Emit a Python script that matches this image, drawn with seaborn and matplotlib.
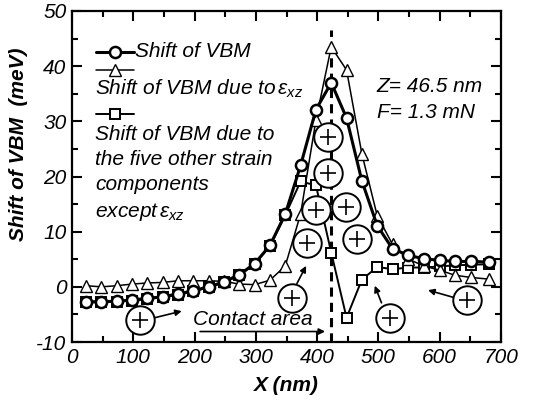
import matplotlib
matplotlib.use("Agg")
import matplotlib.pyplot as plt
import seaborn as sns
import pandas as pd

# Tip position along the scan (nm)
x_nm = [23, 48, 73, 98, 123, 148, 173, 198, 223, 248, 273, 298, 323, 348,
        373, 398, 423, 448, 473, 498, 523, 549, 574, 600, 625, 651, 680]

# Total shift of the valence band maximum (meV)
shift_total = [-2.7, -2.7, -2.6, -2.4, -2.1, -1.8, -1.3, -0.7, 0.0, 0.9, 2.2,
               4.2, 7.5, 13.2, 22.0, 32.1, 37.0, 30.6, 19.2, 11.1, 6.9, 5.7,
               5.1, 4.8, 4.6, 4.6, 4.5]

# Contribution of the shear strain exz
shift_exz = [0.2, 0.0, 0.2, 0.5, 0.7, 0.8, 1.1, 1.1, 1.1, 1.0, 0.5, 0.4, 1.2,
             3.8, 13.2, 30.2, 43.5, 39.3, 24.1, 12.9, 7.7, 5.0, 3.8, 3.0, 2.1,
             1.7, 1.4]

# Contribution of the remaining five strain components
shift_other = [-2.8, -2.8, -2.7, -2.5, -2.2, -1.9, -1.4, -0.8, -0.1, 0.8, 2.1,
               4.1, 7.4, 13.0, 19.1, 18.4, 6.2, -5.6, 1.3, 3.6, 3.2, 3.5, 3.5,
               3.7, 3.9, 4.0, 4.1]

# Sign markers (+) placed along the curves
plus_x = [111, 418, 418, 398, 447, 383, 465, 359, 519, 645]
plus_y = [-6.0, 27.1, 20.7, 14.0, 14.4, 8.0, 8.7, -2.0, -5.6, -2.4]

# Arrows from sign markers to the curves: (tail x, tail y, head x, head y)
arrow_tail_x = [135, 367, 505, 622]
arrow_tail_y = [-5.6, 0.6, -2.9, -1.9]
arrow_head_x = [179, 382, 494, 581]
arrow_head_y = [-4.4, 3.8, 0.2, -0.6]

contact_edge = 422

sns.set_theme(style="ticks")
plt.rcParams["font.family"] = ["Liberation Sans", "DejaVu Sans"]
plt.rcParams["font.style"] = "italic"
plt.rcParams["axes.unicode_minus"] = False
plt.rcParams["mathtext.fontset"] = "custom"
plt.rcParams["mathtext.it"] = "Liberation Sans:italic"
plt.rcParams["mathtext.rm"] = "Liberation Sans:italic"
for key in ["text.color", "axes.labelcolor", "xtick.color", "ytick.color",
            "axes.edgecolor"]:
    plt.rcParams[key] = "black"

df = pd.DataFrame({"x": x_nm, "total": shift_total, "exz": shift_exz,
                   "other": shift_other})

fig = plt.figure(figsize=(5.36, 4.03), dpi=100)
ax = fig.add_axes([72 / 536, 61 / 403, 429 / 536, 331 / 403])

sns.lineplot(data=df, x="x", y="other", ax=ax, color="black", lw=1.4,
             marker="s", markersize=6.5, markerfacecolor="white",
             markeredgecolor="black", markeredgewidth=1.4, zorder=3)
sns.lineplot(data=df, x="x", y="exz", ax=ax, color="black", lw=1.1,
             marker="^", markersize=8, markerfacecolor="white",
             markeredgecolor="black", markeredgewidth=1.0, zorder=4)
sns.lineplot(data=df, x="x", y="total", ax=ax, color="black", lw=2.2,
             marker="o", markersize=8, markerfacecolor="white",
             markeredgecolor="black", markeredgewidth=1.8, zorder=5)

# Edge of the contact area
ax.plot([contact_edge, contact_edge], [-10, 46.5], color="black", lw=2.2,
        ls=(0, (3, 2)), zorder=2)

# Sign markers
sns.scatterplot(x=plus_x, y=plus_y, ax=ax, s=420, marker="o", color="white",
                edgecolor="black", linewidth=1.4, zorder=8)
sns.scatterplot(x=plus_x, y=plus_y, ax=ax, s=140, marker="+", color="black",
                linewidth=1.2, zorder=9)

for tx, ty, hx, hy in zip(arrow_tail_x, arrow_tail_y, arrow_head_x, arrow_head_y):
    ax.annotate("", xy=(hx, hy), xytext=(tx, ty),
                arrowprops=dict(arrowstyle="-|>", color="black", lw=1.2,
                                mutation_scale=9, shrinkA=0, shrinkB=0),
                zorder=7)

# Contact area arrow
ax.annotate("", xy=(413, -8.1), xytext=(209, -8.1),
            arrowprops=dict(arrowstyle="-|>", color="black", lw=1.2,
                            mutation_scale=9, shrinkA=0, shrinkB=0))
ax.text(198, -6.0, "Contact area", fontsize=15, ha="left", va="center")

ax.text(497, 36.4, "Z= 46.5 nm", fontsize=15, ha="left", va="center")
ax.text(497, 31.6, "F= 1.3 mN", fontsize=15, ha="left", va="center")

# Legend
def ax_pt(px, py):
    return (px - 72) / 429, (342 - py) / 331

legend_rows = [(51.7, "o", 8, 1.8, 2.2), (69.5, "^", 8, 1.0, 1.1),
               (113.5, "s", 6.5, 1.4, 1.4)]
for py, mk, ms, mew, lw in legend_rows:
    x0, y0 = ax_pt(95.5, py)
    x1, _ = ax_pt(133.5, py)
    ax.plot([x0, x1], [y0, y0], color="black", lw=lw, transform=ax.transAxes,
            clip_on=False, zorder=6)
    ax.plot([(x0 + x1) / 2], [y0], marker=mk, markersize=ms,
            markerfacecolor="white", markeredgecolor="black",
            markeredgewidth=mew, transform=ax.transAxes, clip_on=False,
            zorder=7)

legend_text = [(135, 51.7, "Shift of VBM"),
               (95, 89, r"Shift of VBM due to$\,\varepsilon_{xz}$"),
               (95, 134, "Shift of VBM due to"),
               (95, 159, "the five other strain"),
               (95, 185, "components"),
               (95, 212, r"except$\,\varepsilon_{xz}$")]
for px, py, s in legend_text:
    tx, ty = ax_pt(px, py)
    ax.text(tx, ty, s, transform=ax.transAxes, fontsize=15,
            ha="left", va="center")

ax.set_xlim(0, 700)
ax.set_ylim(-10, 50)
ax.set_xticks(range(0, 701, 100))
ax.set_xticks(range(50, 700, 100), minor=True)
ax.set_yticks(range(-10, 51, 10))
ax.set_yticks(range(-5, 50, 10), minor=True)
ax.tick_params(which="both", direction="in", top=True, right=True,
               width=1.5, colors="black")
ax.tick_params(which="major", length=7, labelsize=15, pad=4)
ax.tick_params(which="minor", length=4)
for sp in ax.spines.values():
    sp.set_linewidth(1.6)
    sp.set_color("black")

ax.set_xlabel("X (nm)", fontsize=15, fontweight="bold", labelpad=7)
ax.set_ylabel("Shift of VBM  (meV)", fontsize=15, fontweight="bold")
ax.yaxis.set_label_coords(-0.102, 0.598)

fig.savefig("out.png", dpi=100, facecolor="white")
